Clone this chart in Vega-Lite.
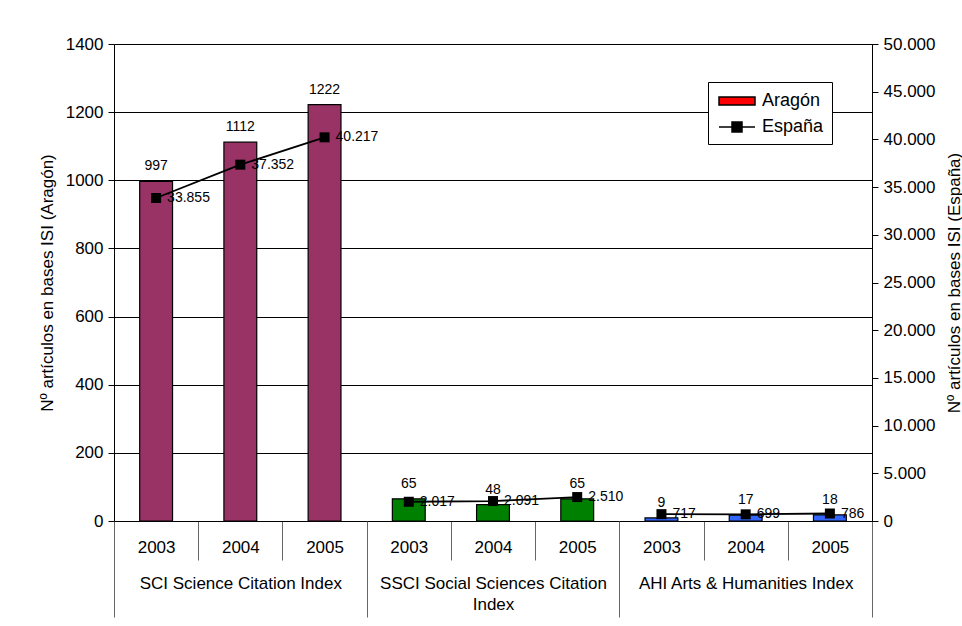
{
  "$schema": "https://vega.github.io/schema/vega-lite/v6.json",
  "width": 758,
  "height": 477,
  "autosize": {"type": "none"},
  "padding": {"left": 114, "top": 44, "right": 90, "bottom": 105},
  "background": "white",
  "config": {
    "view": {"fill": "#FFFFCC", "stroke": "#808080"},
    "font": "Liberation Sans",
    "axis": {
      "labelFont": "Liberation Sans",
      "titleFont": "Liberation Sans",
      "labelColor": "black",
      "titleColor": "black",
      "titleFontWeight": "normal",
      "labelFontSize": 17,
      "titleFontSize": 17,
      "domainColor": "black",
      "tickColor": "black"
    },
    "legend": {"labelFont": "Liberation Sans"}
  },
  "data": {
    "values": [
      {"grupo": "SCI Science Citation Index", "anio": "2003", "Aragón": 997, "España": 33855},
      {"grupo": "SCI Science Citation Index", "anio": "2004", "Aragón": 1112, "España": 37352},
      {"grupo": "SCI Science Citation Index", "anio": "2005", "Aragón": 1222, "España": 40217},
      {"grupo": "SSCI Social Sciences Citation Index", "anio": "2003", "Aragón": 65, "España": 2017},
      {"grupo": "SSCI Social Sciences Citation Index", "anio": "2004", "Aragón": 48, "España": 2091},
      {"grupo": "SSCI Social Sciences Citation Index", "anio": "2005", "Aragón": 65, "España": 2510},
      {"grupo": "AHI Arts & Humanities Index", "anio": "2003", "Aragón": 9, "España": 717},
      {"grupo": "AHI Arts & Humanities Index", "anio": "2004", "Aragón": 17, "España": 699},
      {"grupo": "AHI Arts & Humanities Index", "anio": "2005", "Aragón": 18, "España": 786}
    ]
  },
  "transform": [
    {"calculate": "datum.grupo + '|' + datum.anio", "as": "celda"},
    {"calculate": "replace(format(datum['España'], ','), ',', '.')", "as": "espana_txt"}
  ],
  "layer": [
    {
      "encoding": {
        "x": {
          "field": "celda",
          "type": "nominal",
          "sort": null,
          "scale": {"paddingInner": 0, "paddingOuter": 0},
          "axis": {
            "orient": "bottom",
            "title": null,
            "labelExpr": "split(datum.label, '|')[1]",
            "tickBand": "extent",
            "tickSize": 39,
            "tickColor": "#666666",
            "labelPadding": -21,
            "labelAngle": 0,
            "labelBaseline": "top",
            "domainColor": "black"
          }
        }
      },
      "layer": [
        {
          "encoding": {
            "y": {
              "field": "Aragón",
              "type": "quantitative",
              "scale": {"domain": [0, 1400], "nice": false},
              "axis": {
                "title": "Nº artículos en bases ISI (Aragón)",
                "values": [0, 200, 400, 600, 800, 1000, 1200, 1400],
                "format": "d",
                "grid": true,
                "gridColor": "black",
                "gridWidth": 1,
                "tickSize": 6,
                "labelPadding": 5,
                "titlePadding": 9
              }
            }
          },
          "layer": [
            {
              "mark": {"type": "bar", "width": {"band": 0.39}, "stroke": "black", "strokeWidth": 1.2},
              "encoding": {
                "color": {
                  "field": "grupo",
                  "type": "nominal",
                  "sort": null,
                  "scale": {
                    "domain": ["SCI Science Citation Index", "SSCI Social Sciences Citation Index", "AHI Arts & Humanities Index"],
                    "range": ["#993366", "#008000", "#3366FF"]
                  },
                  "legend": null
                }
              }
            },
            {
              "mark": {"type": "text", "baseline": "bottom", "dy": -8, "fontSize": 14, "color": "black"},
              "encoding": {"text": {"field": "Aragón", "type": "quantitative"}}
            }
          ]
        },
        {
          "encoding": {
            "y": {
              "field": "España",
              "type": "quantitative",
              "scale": {"domain": [0, 50000], "nice": false},
              "axis": {
                "orient": "right",
                "title": "Nº artículos en bases ISI (España)",
                "values": [0, 5000, 10000, 15000, 20000, 25000, 30000, 35000, 40000, 45000, 50000],
                "labelExpr": "replace(format(datum.value, ','), ',', '.')",
                "grid": false,
                "tickSize": 6,
                "labelPadding": 5,
                "titlePadding": 12,
                "titleAngle": 270,
                "titleBaseline": "top"
              }
            }
          },
          "layer": [
            {
              "mark": {"type": "line", "color": "black", "strokeWidth": 1.8},
              "encoding": {"detail": {"field": "grupo", "type": "nominal"}}
            },
            {
              "mark": {"type": "square", "size": 100, "color": "black", "filled": true, "opacity": 1}
            },
            {
              "mark": {"type": "text", "align": "left", "baseline": "middle", "dx": 11, "fontSize": 14, "color": "black"},
              "encoding": {"text": {"field": "espana_txt", "type": "nominal"}}
            }
          ]
        }
      ],
      "resolve": {"scale": {"y": "independent"}}
    },
    {
      "mark": {"type": "point", "opacity": 0},
      "encoding": {
        "x": {
          "field": "grupo",
          "type": "nominal",
          "sort": null,
          "scale": {"paddingInner": 0, "paddingOuter": 0},
          "axis": {
            "orient": "bottom",
            "title": null,
            "tickBand": "extent",
            "tickSize": 96,
            "tickColor": "#666666",
            "domain": false,
            "labelPadding": -42,
            "labelAngle": 0,
            "labelBaseline": "top",
            "labelLimit": 400,
            "labelLineHeight": 21,
            "labelExpr": "length(datum.label) > 30 ? [slice(datum.label, 0, lastindexof(datum.label, ' ')), slice(datum.label, lastindexof(datum.label, ' ') + 1)] : datum.label"
          }
        }
      }
    },
    {
      "transform": [{"fold": ["Aragón", "España"], "as": ["serie", "valor"]}],
      "mark": {"type": "point", "filled": true, "size": 0, "opacity": 1, "fillOpacity": 1, "stroke": "black", "strokeWidth": 1.5},
      "encoding": {
        "fill": {
          "field": "serie",
          "type": "nominal",
          "title": null,
          "scale": {"domain": ["Aragón", "España"], "range": ["#FF0000", "#000000"]},
          "legend": {
            "orient": "none",
            "legendX": 594,
            "legendY": 38,
            "padding": 8,
            "fillColor": "white",
            "strokeColor": "black",
            "symbolOpacity": 1,
            "symbolSize": 400,
            "symbolOffset": 10,
            "symbolStrokeColor": "black",
            "symbolStrokeWidth": 1.5,
            "labelFontSize": 18,
            "labelColor": "black",
            "labelOffset": 14,
            "rowPadding": 6
          }
        },
        "shape": {
          "field": "serie",
          "type": "nominal",
          "title": null,
          "scale": {
            "domain": ["Aragón", "España"],
            "range": ["M-1.8,-0.4H1.8V0.4H-1.8Z", "M-1.8,0H1.8M-0.5,-0.5H0.5V0.5H-0.5Z"]
          }
        }
      }
    }
  ],
  "resolve": {
    "scale": {"x": "independent", "color": "independent", "fill": "independent", "shape": "independent"},
    "legend": {"color": "independent", "fill": "independent", "shape": "independent"}
  }
}
